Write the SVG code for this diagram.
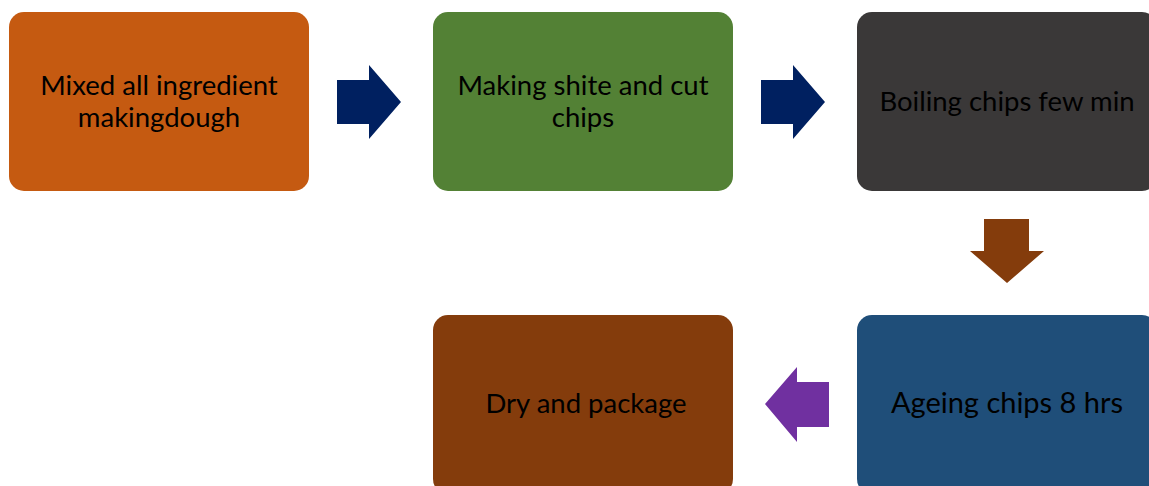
<svg xmlns="http://www.w3.org/2000/svg" width="1149" height="486" viewBox="0 0 1149 486">
  <style>
    .box text { font-family: Lato, "Liberation Sans", sans-serif; font-size: 27.5px; fill: #000; text-anchor: middle; }
    .box text.big { font-size: 29px; }
  </style>
  <rect width="1149" height="486" fill="#fff"/>

  <g id="node-mix" class="box">
    <rect x="9" y="12" width="300" height="179" rx="15" fill="#C55A11"/>
    <text x="159" y="95">Mixed all ingredient</text>
    <text x="159" y="127">makingdough</text>
  </g>
  <g id="node-cut" class="box">
    <rect x="433" y="12" width="300" height="179" rx="15" fill="#538135"/>
    <text x="583" y="95">Making shite and cut</text>
    <text x="583" y="127">chips</text>
  </g>
  <g id="node-boil" class="box">
    <rect x="857" y="12" width="300" height="179" rx="15" fill="#3A3838"/>
    <text x="1007" y="111">Boiling chips few min</text>
  </g>
  <g id="node-age" class="box">
    <rect x="857" y="315" width="300" height="179" rx="15" fill="#1F4E79"/>
    <text class="big" x="1007" y="413">Ageing chips 8 hrs</text>
  </g>
  <g id="node-dry" class="box">
    <rect x="433" y="315" width="300" height="179" rx="15" fill="#843C0C"/>
    <text x="586" y="413">Dry and package</text>
  </g>

  <g id="connectors">
    <polygon points="337,80 369,80 369,65 401,102 369,139 369,124 337,124" fill="#002060"/>
    <polygon points="761,80 793,80 793,65 825,102 793,139 793,124 761,124" fill="#002060"/>
    <polygon points="984,219 1029,219 1029,251 1044,251 1007,283 970,251 984,251" fill="#843C0C"/>
    <polygon points="829,382 797,382 797,367 765,404 797,442 797,427 829,427" fill="#7030A0"/>
  </g>
</svg>
